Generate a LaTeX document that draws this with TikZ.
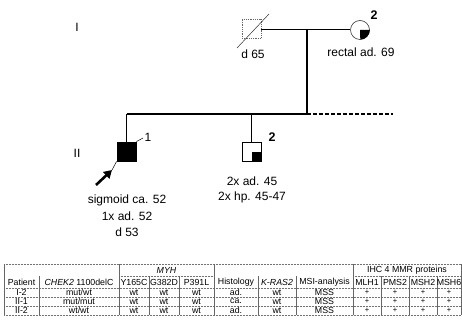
\documentclass[tikz,border=0pt]{standalone}
\usepackage{fontspec}
\setmainfont{Liberation Sans}
\usetikzlibrary{arrows.meta}
\begin{document}
\begin{tikzpicture}[x=1pt,y=-1pt,
  ped/.style={font=\fontsize{12}{14}\selectfont, inner sep=0pt},
  pedb/.style={font=\fontsize{12.5}{14}\bfseries\selectfont, inner sep=0pt},
  tab/.style={font=\fontsize{8.8}{9}\selectfont, inner sep=0pt},
  plus/.style={font=\fontsize{7.5}{8}\selectfont, inner sep=0pt},
  male/.style={draw=black, line width=0.8pt, minimum size=19pt, inner sep=0pt, rectangle},
  female/.style={draw=black!80, line width=0.6pt, minimum size=19pt, inner sep=0pt, circle},
  famline/.style={line width=1.4pt},
  thin/.style={line width=0.5pt},
  hline/.style={draw=black!55, line width=0.5pt, densely dotted},
  vline/.style={draw=black!60, line width=0.5pt}]
\useasboundingbox (0,0) rectangle (462,320);
\fill[white] (0,0) rectangle (462,320);

% generation labels
\node[ped] (gI) at (77,27) {I};
\node[ped] (gII) at (77,153) {II};

% generation I
\node[male, draw=black!60, densely dotted] (I1) at (251.5,29) {};
\draw[thin, black!80] (237,48) -- (269,14);
\node[ped] (I1lab) at (253,54) {d 65};

\node[female] (I2) at (360,30) {};
\fill[black] (I2.center) -- (I2.east) arc (0:-90:9.5pt) -- cycle;
\node[pedb] (I2num) at (374,15) {2};
\node[ped] (I2lab) at (361,52) {rectal ad. 69};

\coordinate (mid) at (307,29.5);
\coordinate (sib) at (307,114);
\coordinate (sibL) at (126.5,114);
\coordinate (sib2) at (251.5,114);
\coordinate (sibR) at (393,114);
\draw[famline] (I1.east |- mid) -- (I2.west |- mid);
\draw[line width=1.1pt] (mid) -- (sib);
\draw[famline] (sibL) -- (sib);
\draw[famline, dash pattern=on 4pt off 2pt] (sib) -- (sibR);

% generation II
\node[male, fill=black] (II1) at (126.5,151.5) {};
\draw[line width=1.1pt] (sibL) -- (II1.north);
\node[ped] (II1num) at (148,137) {1};
\coordinate (II1n) at (143,138);
\draw[thin] (II1.north east) -- (II1n);
\coordinate (arrT) at (112,170);
\coordinate (arrS) at (96,185);
\draw[thin] (II1.south west) -- (arrT);
\draw[line width=2.6pt, -{Triangle[length=8pt,width=9pt]}] (arrS) -- (arrT);
\node[ped] (II1a) at (127,200) {sigmoid ca. 52};
\node[ped] (II1b) at (127,216) {1x ad. 52};
\node[ped] (II1c) at (127,232) {d 53};

\node[male] (II2) at (251.5,152) {};
\fill[black] (II2.center) rectangle (II2.south east);
\draw[line width=1.1pt] (sib2) -- (II2.north);
\node[pedb] (II2num) at (272,137) {2};
\node[ped] (II2a) at (252,181) {2x ad. 45};
\node[ped] (II2b) at (252,197) {2x hp. 45-47};

% table lines
\draw[hline] (4,264) -- (461,264);
\draw[hline] (119,276) -- (214,276);
\draw[hline] (353,276) -- (461,276);
\foreach \yy in {288,297,306,315} \draw[hline] (4,\yy) -- (461,\yy);
\foreach \xx in {4,119,214,353,461} \draw[vline] (\xx,264) -- (\xx,315);
\foreach \xx in {39,149,179,258,296,381,409,437} \draw[vline] (\xx,276) -- (\xx,315);

% table header
\node[tab] (hMYH) at (166.5,270) {\itshape MYH};
\node[tab] (hIHC) at (407,270) {IHC 4 MMR proteins};
\node[tab] (hP) at (21.5,282) {Patient};
\node[tab] (hC) at (79,282) {\itshape CHEK2\upshape\ 1100delC};
\node[tab] (hY) at (134,282) {Y165C};
\node[tab] (hG) at (164,282) {G382D};
\node[tab] (hP3) at (196.5,282) {P391L};
\node[tab] (hH) at (236,282) {Histology};
\node[tab] (hK) at (277,282) {\itshape K-RAS2};
\node[tab] (hM) at (324.5,282) {MSI-analysis};
\node[tab] (h1) at (367,282) {MLH1};
\node[tab] (h2) at (395,282) {PMS2};
\node[tab] (h3) at (423,282) {MSH2};
\node[tab] (h4) at (449,282) {MSH6};

% table body
\node[tab] (p1) at (21.5,292.5) {I-2};
\node[tab] (p2) at (21.5,301.5) {II-1};
\node[tab] (p3) at (21.5,310.5) {II-2};
\node[tab] (c1) at (79,292.5) {mut/wt};
\node[tab] (c2) at (79,301.5) {mut/mut};
\node[tab] (c3) at (79,310.5) {wt/wt};
\node[tab] (s1) at (236,292.5) {ad.};
\node[tab] (s2) at (236,301.5) {ca.};
\node[tab] (s3) at (236,310.5) {ad.};
\foreach \yy/\r in {292.5/1,301.5/2,310.5/3}{
  \foreach \xx/\t/\c in {134/wt/a,164/wt/b,196.5/wt/c,277/wt/d,324.5/MSS/e}
    \node[tab] (r\r\c) at (\xx,\yy) {\t};
  \foreach \xx/\c in {367/f,395/g,423/h,449/i}
    \node[plus] (r\r\c) at (\xx,\yy) {+};
}
\end{tikzpicture}
\end{document}
